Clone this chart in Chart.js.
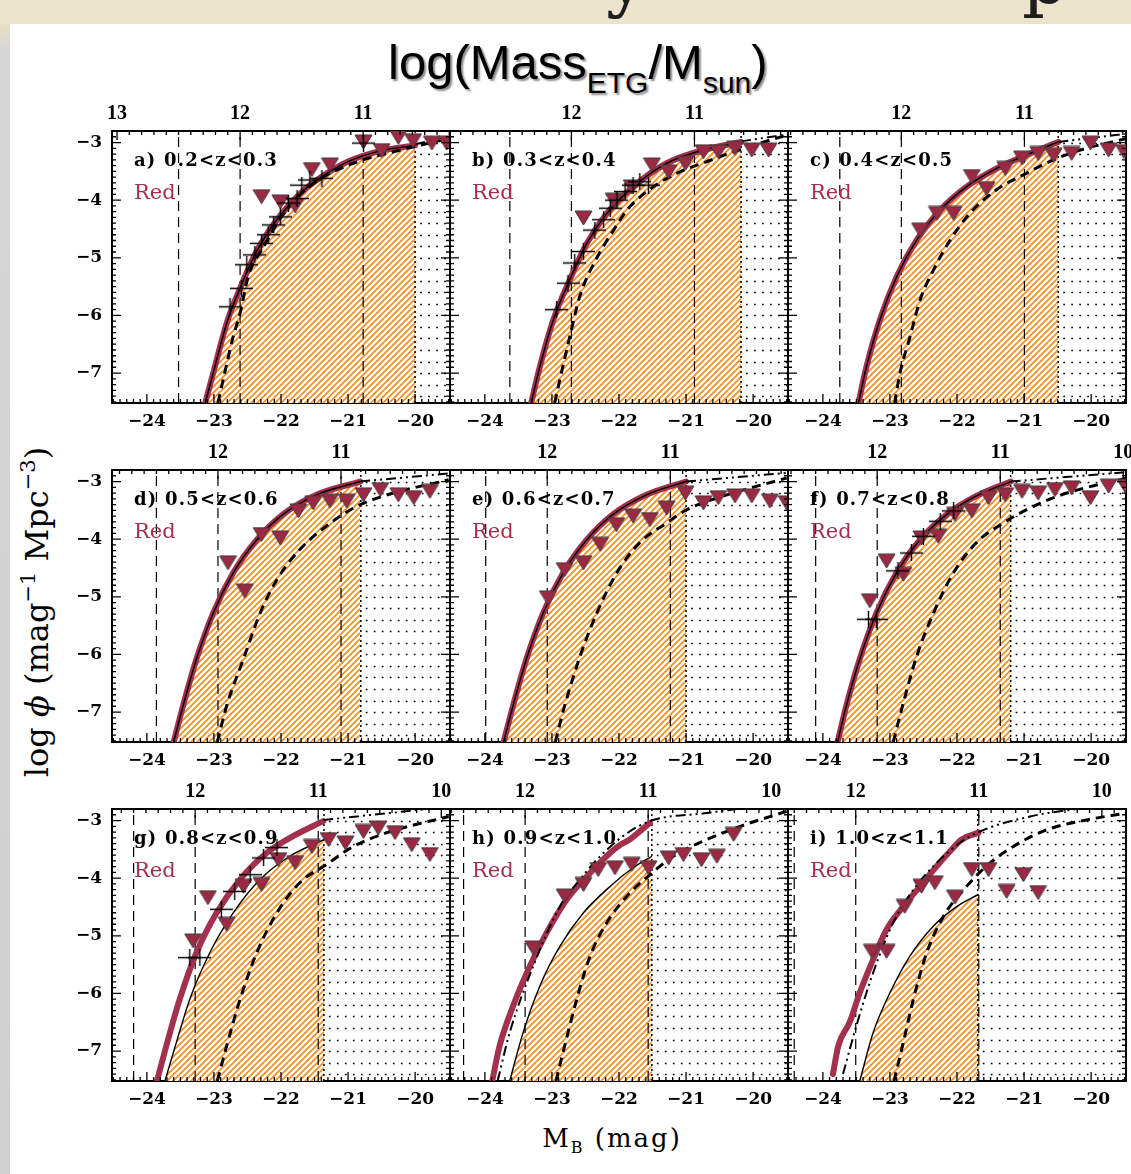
<!DOCTYPE html>
<html>
<head>
<meta charset="utf-8">
<script src="https://cdn.jsdelivr.net/npm/chart.js@4.4.1/dist/chart.umd.min.js"></script>
<style>
  body { margin: 0; width: 1131px; height: 1174px; overflow: hidden; background: #fff; position: relative; }
  canvas { position: absolute; }
  #band { position: absolute; left: 0; top: 0; width: 1131px; height: 24px; background: #ebe3cb; overflow: hidden; }
  #band span { position: absolute; top: -64px; font: 72px "DejaVu Serif"; color: #1d1d1d; }
  #edge { position: absolute; left: 0; top: 24px; width: 10px; height: 1150px;
          background: linear-gradient(to bottom, #e6dec6 0, #d6d6d6 26px, #d0d0d0 100%); }
  #title { position: absolute; left: 388px; top: 37px; font: 49px "Liberation Sans"; line-height: 50px;
           color: #000; white-space: nowrap; text-shadow: 2px 2px 2px #8a8a8a; }
  #title sub { font-size: 30px; vertical-align: -14px; line-height: 0; }
  #ytitle { position: absolute; left: 37px; top: 612px; transform: translate(-50%, -50%) rotate(-90deg);
            font: 32px "DejaVu Serif"; white-space: nowrap; color: #000; }
  #ytitle sup { font-size: 21px; vertical-align: 13px; line-height: 0; }
  #xtitle { position: absolute; left: 612px; top: 1138px; transform: translate(-50%, -50%);
            font: 26px "DejaVu Serif"; letter-spacing: 2px; white-space: nowrap; color: #000; }
  #xtitle sub { font-size: 16px; vertical-align: -6px; line-height: 0; }
</style>
</head>
<body>
<div id="band"><span style="left:606px">y</span><span style="left:1022px">p</span></div>
<div id="edge"></div>
<div id="title">log(Mass<sub>ETG</sub>/M<sub>sun</sub>)</div>
<div id="ytitle">log <i>ϕ</i> (mag<sup>−1</sup> Mpc<sup>−3</sup>)</div>
<div id="xtitle">M<sub>B</sub> (mag)</div>
<script>
// redshift bins, one panel each
const panelLabels = ['a) 0.2<z<0.3', 'b) 0.3<z<0.4', 'c) 0.4<z<0.5',
                     'd) 0.5<z<0.6', 'e) 0.6<z<0.7', 'f) 0.7<z<0.8',
                     'g) 0.8<z<0.9', 'h) 0.9<z<1.0', 'i) 1.0<z<1.1'];

// completeness limit (M_B) of each bin
const cutoffMag = [-20.0, -20.18, -20.49, -20.81, -21.0, -21.2, -21.36, -21.51, -21.69];

// M_B that corresponds to log M = 12 in each bin, and the slope of the conversion
const mass12Mag = [-22.61, -22.71, -22.83, -22.94, -23.07, -23.19, -23.28, -23.40, -23.51];
const magPerDex = 1.835;
const massTickLabels = [[13, 12, 11], [12, 11], [12, 11], [12, 11], [12, 11],
                        [12, 11, 10], [12, 11, 10], [12, 11, 10], [12, 11, 10]];
const massLines = [12.5, 12, 11];

const magTicks = [-24, -23, -22, -21, -20];
const phiTicks = [-7, -6, -5, -4, -3];
const dotRows = [-7.4, -7.2, -7.0, -6.8, -6.6, -6.4, -6.2, -6.0, -5.8, -5.6, -5.4, -5.2,
                 -5.0, -4.8, -4.6, -4.4, -4.2, -4.0, -3.8, -3.6, -3.4, -3.2, -3.0];

// red-sequence LF (thick red)
const redCurve = [
  [[-23.13, -7.52], [-23.0, -6.95], [-22.8, -6.1], [-22.6, -5.5], [-22.4, -4.97], [-22.2, -4.57], [-22.0, -4.25], [-21.7, -3.87], [-21.4, -3.6], [-21.0, -3.33], [-20.5, -3.14], [-20.0, -3.05]],
  [[-23.31, -7.52], [-23.18, -6.89], [-22.98, -6.08], [-22.73, -5.37], [-22.48, -4.75], [-22.18, -4.23], [-21.79, -3.77], [-21.29, -3.36], [-20.74, -3.13], [-20.18, -2.99]],
  [[-23.47, -7.52], [-23.35, -6.89], [-23.15, -6.08], [-22.9, -5.33], [-22.6, -4.69], [-22.25, -4.17], [-21.86, -3.77], [-21.36, -3.42], [-20.91, -3.19], [-20.49, -2.99]],
  [[-23.6, -7.52], [-23.46, -6.89], [-23.26, -6.08], [-23.01, -5.28], [-22.71, -4.58], [-22.36, -4.01], [-21.97, -3.57], [-21.47, -3.23], [-20.82, -3.0]],
  [[-23.72, -7.52], [-23.58, -6.89], [-23.38, -6.08], [-23.13, -5.28], [-22.83, -4.58], [-22.48, -4.01], [-22.09, -3.57], [-21.59, -3.23], [-21.0, -3.0]],
  [[-23.78, -7.52], [-23.65, -6.89], [-23.45, -6.08], [-23.2, -5.28], [-22.9, -4.58], [-22.55, -4.01], [-22.15, -3.57], [-21.71, -3.25], [-21.2, -3.0]],
  [[-23.85, -7.52], [-23.71, -6.91], [-23.51, -6.1], [-23.26, -5.29], [-22.96, -4.6], [-22.61, -4.02], [-22.21, -3.56], [-21.82, -3.27], [-21.37, -3.01]],
  [[-23.89, -7.52], [-23.78, -6.91], [-23.58, -6.22], [-23.33, -5.53], [-23.08, -4.95], [-22.78, -4.37], [-22.48, -3.97], [-22.13, -3.56], [-21.98, -3.42], [-21.84, -3.33], [-21.54, -3.04]],
  [[-23.85, -7.4], [-23.77, -6.91], [-23.6, -6.5], [-23.45, -5.99], [-23.25, -5.41], [-23.05, -4.89], [-22.8, -4.49], [-22.55, -4.14], [-22.3, -3.79], [-22.1, -3.53], [-21.93, -3.33], [-21.68, -3.21]]
];

// Schechter fit bounding the hatched area (same as the red curve up to f)
const fitCurve = [
  null, null, null, null, null, null,
  [[-23.73, -7.52], [-23.56, -6.85], [-23.36, -6.1], [-23.06, -5.29], [-22.71, -4.6], [-22.31, -4.02], [-21.87, -3.62], [-21.36, -3.33]],
  [[-23.63, -7.52], [-23.43, -6.68], [-23.18, -5.87], [-22.88, -5.18], [-22.53, -4.6], [-22.13, -4.14], [-21.79, -3.82], [-21.51, -3.62]],
  [[-23.45, -7.52], [-23.25, -6.68], [-23.0, -5.99], [-22.7, -5.35], [-22.35, -4.83], [-22.0, -4.49], [-21.68, -4.28]]
];

// thick dashed model LF
const dashCurve = [
  [[-22.94, -7.52], [-22.84, -7.0], [-22.72, -6.4], [-22.61, -5.96], [-22.49, -5.33], [-22.26, -4.81], [-21.92, -4.17], [-21.52, -3.71], [-20.92, -3.36], [-20.22, -3.13], [-19.5, -2.93]],
  [[-22.96, -7.52], [-22.83, -6.85], [-22.71, -6.25], [-22.58, -5.65], [-22.33, -5.0], [-22.08, -4.52], [-21.88, -4.17], [-21.49, -3.77], [-21.09, -3.51], [-20.69, -3.33], [-20.29, -3.16], [-19.5, -2.87]],
  [[-22.93, -7.52], [-22.85, -7.0], [-22.7, -6.37], [-22.55, -5.73], [-22.35, -5.21], [-22.1, -4.69], [-21.81, -4.23], [-21.41, -3.82], [-20.96, -3.53], [-20.56, -3.3], [-20.16, -3.13], [-19.47, -2.93]],
  [[-22.95, -7.52], [-22.81, -6.89], [-22.56, -6.08], [-22.31, -5.28], [-22.06, -4.7], [-21.72, -4.18], [-21.32, -3.77], [-20.92, -3.46], [-20.47, -3.25], [-19.5, -2.97]],
  [[-22.95, -7.52], [-22.81, -6.89], [-22.58, -6.03], [-22.33, -5.28], [-22.03, -4.58], [-21.69, -4.06], [-21.29, -3.72], [-20.99, -3.49], [-20.44, -3.25], [-19.5, -2.94]],
  [[-22.95, -7.52], [-22.8, -6.84], [-22.6, -6.03], [-22.35, -5.28], [-22.05, -4.58], [-21.71, -4.06], [-21.31, -3.72], [-20.86, -3.43], [-20.36, -3.2], [-19.47, -2.94]],
  [[-22.95, -7.52], [-22.81, -6.91], [-22.61, -6.1], [-22.36, -5.29], [-22.06, -4.6], [-21.72, -4.08], [-21.32, -3.76], [-20.92, -3.45], [-20.42, -3.21], [-19.5, -2.93]],
  [[-22.94, -7.52], [-22.81, -6.91], [-22.63, -6.1], [-22.43, -5.35], [-22.18, -4.77], [-21.88, -4.31], [-21.54, -3.94], [-21.19, -3.62], [-20.69, -3.33], [-20.19, -3.1], [-19.5, -2.84]],
  [[-22.94, -7.52], [-22.8, -6.85], [-22.65, -6.1], [-22.45, -5.29], [-22.2, -4.66], [-21.9, -4.2], [-21.56, -3.79], [-21.16, -3.45], [-20.66, -3.16], [-20.16, -3.01], [-19.47, -2.87]]
];

// dash-dot-dot model LF
const dashDotCurve = [
  [[-20.0, -3.03], [-19.5, -2.9]],
  [[-20.18, -2.98], [-19.5, -2.86]],
  [[-20.49, -2.99], [-19.5, -2.85]],
  [[-20.82, -3.0], [-19.5, -2.86]],
  [[-21.0, -3.0], [-19.5, -2.85]],
  [[-21.2, -3.0], [-19.5, -2.84]],
  [[-21.37, -2.99], [-19.5, -2.76]],
  [[-23.81, -7.52], [-23.63, -6.68], [-23.28, -5.53], [-22.88, -4.49], [-22.58, -4.02], [-22.33, -3.68], [-21.94, -3.27], [-21.54, -3.01], [-20.69, -2.87], [-19.7, -2.72]],
  [[-23.7, -7.4], [-23.5, -6.56], [-23.25, -5.64], [-22.95, -4.77], [-22.65, -4.2], [-22.3, -3.73], [-21.96, -3.39], [-21.66, -3.19], [-20.91, -2.93], [-19.91, -2.75]]
];

// red galaxies (triangles)
const triangles = [
  [[-22.29, -3.94], [-22.01, -4.03], [-21.79, -4.1], [-21.54, -3.47], [-21.27, -3.39], [-20.77, -2.99], [-20.5, -3.14], [-20.25, -2.91], [-20.03, -2.97], [-19.75, -3.01], [-19.53, -3.01]],
  [[-22.53, -4.31], [-22.08, -4.0], [-21.81, -3.77], [-21.51, -3.39], [-21.26, -3.51], [-21.01, -3.36], [-20.74, -3.16], [-20.52, -3.16], [-20.27, -3.1], [-20.02, -3.13], [-19.77, -3.13]],
  [[-22.55, -4.52], [-22.3, -4.23], [-22.05, -4.23], [-21.78, -3.59], [-21.56, -3.8], [-21.28, -3.45], [-21.03, -3.27], [-20.79, -3.19], [-20.56, -3.22], [-20.29, -3.19], [-20.01, -3.01], [-19.74, -3.13], [-19.51, -3.16]],
  [[-22.79, -4.41], [-22.54, -4.9], [-22.29, -3.92], [-22.01, -3.98], [-21.74, -3.51], [-21.52, -3.37], [-21.27, -3.34], [-21.02, -3.34], [-20.77, -3.23], [-20.52, -3.14], [-20.25, -3.23], [-20.02, -3.28], [-19.78, -3.17]],
  [[-23.06, -5.02], [-22.81, -4.53], [-22.53, -4.41], [-22.28, -4.09], [-22.04, -3.75], [-21.79, -3.6], [-21.54, -3.66], [-21.29, -3.46], [-21.01, -3.2], [-20.74, -3.37], [-20.52, -3.28], [-20.27, -3.25], [-20.02, -3.25], [-19.75, -3.34], [-19.5, -3.37]],
  [[-23.3, -5.07], [-23.05, -4.38], [-22.8, -4.61], [-22.53, -3.98], [-22.28, -3.95], [-22.03, -3.57], [-21.78, -3.51], [-21.53, -3.28], [-21.28, -3.23], [-21.03, -3.17], [-20.79, -3.2], [-20.54, -3.14], [-20.29, -3.11], [-20.01, -3.28], [-19.74, -3.08], [-19.49, -3.08]],
  [[-23.31, -5.09], [-23.09, -4.34], [-22.81, -4.8], [-22.56, -4.14], [-22.29, -4.11], [-22.04, -3.68], [-21.79, -3.73], [-21.54, -3.45], [-21.29, -3.33], [-21.04, -3.39], [-20.77, -3.19], [-20.55, -3.13], [-20.3, -3.21], [-20.05, -3.42], [-19.78, -3.59]],
  [[-23.28, -5.21], [-22.81, -4.31], [-22.53, -4.11], [-22.31, -3.85], [-22.06, -3.82], [-21.81, -3.76], [-21.56, -3.82], [-21.26, -3.65], [-21.04, -3.59], [-20.77, -3.68], [-20.54, -3.62], [-20.29, -3.24]],
  [[-23.27, -5.27], [-23.05, -5.27], [-22.78, -4.49], [-22.53, -4.14], [-22.33, -4.08], [-22.03, -4.33], [-21.78, -3.85], [-21.53, -3.85], [-21.26, -4.23], [-21.01, -3.94], [-20.79, -4.25]]
];

// comparison sample (crosses)
const crosses = [
  [[-22.76, -5.85], [-22.59, -5.53], [-22.51, -5.12], [-22.39, -4.95], [-22.29, -4.75], [-22.19, -4.6], [-22.11, -4.43], [-22.01, -4.29], [-21.89, -4.05], [-21.76, -3.97], [-21.69, -3.74], [-21.57, -3.65], [-21.39, -3.62], [-20.77, -3.01]],
  [[-22.93, -5.9], [-22.76, -5.44], [-22.66, -5.09], [-22.53, -4.89], [-22.36, -4.52], [-22.23, -4.34], [-22.13, -4.14], [-22.03, -4.0], [-21.91, -3.85], [-21.79, -3.74], [-21.69, -3.68], [-21.56, -3.74]],
  [], [], [],
  [[-23.32, -5.39], [-23.2, -5.39], [-22.88, -4.55], [-22.68, -4.24], [-22.5, -3.95], [-22.25, -3.69], [-22.05, -3.51]],
  [[-23.36, -5.38], [-23.21, -5.38], [-22.89, -4.54], [-22.69, -4.23], [-22.46, -3.94], [-22.26, -3.65], [-22.06, -3.47]],
  [], []
];

const X_MIN = -24.52, X_MAX = -19.48, Y_MIN = -7.52, Y_MAX = -2.8;
const RED = '#a3304c';
const FRAME_W = 338, FRAME_H = 272;
const PAD_L = 45, PAD_R = 24, PAD_T = 30, PAD_B = 34;
const colLeft = [112, 450, 788];
const rowTop = [131, 470, 809];
const TICK_FONT = {family: 'DejaVu Serif', size: 17, weight: 'bold'};

const pts = arr => arr.map(([x, y]) => ({x, y}));
const minus = v => (v < 0 ? '\u2212' : '') + Math.abs(v);

// orange diagonal hatching
function makeHatch() {
  const c = document.createElement('canvas');
  c.width = c.height = 6;
  const g = c.getContext('2d');
  g.fillStyle = '#fff';
  g.fillRect(0, 0, 6, 6);
  g.strokeStyle = '#f58d1f';
  g.lineWidth = 1.7;
  g.beginPath();
  g.moveTo(0, 6); g.lineTo(6, 0);
  g.moveTo(-1, 1); g.lineTo(1, -1);
  g.moveTo(5, 7); g.lineTo(7, 5);
  g.stroke();
  return g.createPattern(c, 'repeat');
}

function makeTriangle() {
  const c = document.createElement('canvas');
  c.width = 19; c.height = 16;
  const g = c.getContext('2d');
  g.beginPath();
  g.moveTo(1, 1); g.lineTo(18, 1); g.lineTo(9.5, 15); g.closePath();
  g.fillStyle = '#9c2944';
  g.fill();
  g.strokeStyle = '#3f3f3f';
  g.lineWidth = 1;
  g.stroke();
  return c;
}

function makeCross() {
  const c = document.createElement('canvas');
  c.width = 23; c.height = 17;
  const g = c.getContext('2d');
  g.strokeStyle = '#000';
  g.lineWidth = 1.4;
  g.beginPath();
  g.moveTo(0, 8.5); g.lineTo(23, 8.5);
  g.moveTo(11.5, 0); g.lineTo(11.5, 17);
  g.stroke();
  return c;
}

const hatch = makeHatch();
const triSprite = makeTriangle();
const crossSprite = makeCross();

// dotted rows beyond the limit, inward ticks and panel text
const panelDecor = {
  id: 'panelDecor',
  beforeDatasetsDraw(chart, args, opts) {
    const {ctx, chartArea: a, scales: {x, y}} = chart;
    const x0 = x.getPixelForValue(opts.cutoff);
    ctx.save();
    ctx.beginPath();
    ctx.rect(a.left, a.top, a.width, a.height);
    ctx.clip();
    ctx.strokeStyle = '#000';
    ctx.lineWidth = 1.7;
    ctx.setLineDash([1.7, 6.3]);
    dotRows.forEach(v => {
      const py = Math.round(y.getPixelForValue(v)) + 0.5;
      ctx.beginPath();
      ctx.moveTo(x0 + 5, py);
      ctx.lineTo(a.right, py);
      ctx.stroke();
    });
    ctx.restore();
  },
  afterDatasetsDraw(chart, args, opts) {
    const {ctx, chartArea: a, scales: {x, x2, y}} = chart;
    ctx.save();
    ctx.strokeStyle = '#000';
    ctx.lineWidth = 1.3;
    ctx.beginPath();
    for (let k = Math.ceil(x.min * 10); k <= Math.floor(x.max * 10); k++) {
      const px = x.getPixelForValue(k / 10), len = k % 10 === 0 ? 9 : 4;
      ctx.moveTo(px, a.bottom); ctx.lineTo(px, a.bottom - len);
    }
    for (let k = Math.ceil(x2.min * 10); k <= Math.floor(x2.max * 10); k++) {
      const px = x2.getPixelForValue(k / 10), len = k % 10 === 0 ? 9 : 4;
      ctx.moveTo(px, a.top); ctx.lineTo(px, a.top + len);
    }
    for (let k = Math.ceil(y.min * 10); k <= Math.floor(y.max * 10); k++) {
      const py = y.getPixelForValue(k / 10), len = k % 10 === 0 ? 9 : 4;
      ctx.moveTo(a.left, py); ctx.lineTo(a.left + len, py);
      ctx.moveTo(a.right, py); ctx.lineTo(a.right - len, py);
    }
    ctx.stroke();

    ctx.fillStyle = '#000';
    ctx.font = 'bold 18px "DejaVu Serif"';
    ctx.letterSpacing = '1.2px';
    ctx.fillText(opts.label, a.left + 22, a.top + 35);
    ctx.fillStyle = RED;
    ctx.font = '21px "DejaVu Serif"';
    ctx.letterSpacing = '0px';
    ctx.fillText('Red', a.left + 22, a.top + 68);
    ctx.restore();
  }
};

function line(data, extra) {
  return Object.assign({
    data: pts(data), showLine: true, pointRadius: 0, borderColor: '#000', borderWidth: 1.5,
    cubicInterpolationMode: 'monotone', fill: false, clip: 0
  }, extra);
}

panelLabels.forEach((label, i) => {
  const col = i % 3, row = Math.floor(i / 3);
  const cv = document.createElement('canvas');
  cv.width = PAD_L + FRAME_W + PAD_R;
  cv.height = PAD_T + FRAME_H + PAD_B;
  cv.style.left = (colLeft[col] - PAD_L) + 'px';
  cv.style.top = (rowTop[row] - PAD_T) + 'px';
  document.body.appendChild(cv);

  const massAt = m => 12 - (m - mass12Mag[i]) / magPerDex;
  const magAt = lm => mass12Mag[i] - (lm - 12) * magPerDex;
  const straight = {cubicInterpolationMode: 'default', tension: 0};

  new Chart(cv, {
    type: 'scatter',
    data: {
      datasets: [
        {data: pts(crosses[i]), pointStyle: crossSprite, pointRadius: 8, clip: 0},
        {data: pts(triangles[i]), pointStyle: triSprite, pointRadius: 8, clip: 0},
        line(fitCurve[i] || redCurve[i], {fill: 'start', backgroundColor: hatch, borderWidth: 1.4}),
        line(dashCurve[i], {borderWidth: 3, borderDash: [9, 6]}),
        line(dashDotCurve[i], {borderWidth: 2, borderDash: [10, 4, 2, 4, 2, 4]}),
        line(redCurve[i], {borderColor: RED, borderWidth: 6, borderCapStyle: 'round', borderJoinStyle: 'round'}),
        line([[cutoffMag[i], Y_MIN], [cutoffMag[i], Y_MAX]], Object.assign({borderWidth: 1.5, borderDash: [2, 3]}, straight)),
        ...massLines.map(m => line([[magAt(m), Y_MIN], [magAt(m), Y_MAX]],
          Object.assign({borderWidth: 1.2, borderDash: [10, 6]}, straight)))
      ]
    },
    options: {
      responsive: false,
      animation: false,
      devicePixelRatio: 1,
      events: [],
      layout: {padding: 0},
      plugins: {
        legend: {display: false},
        tooltip: {enabled: false},
        filler: {drawTime: 'beforeDatasetsDraw'},
        panelDecor: {cutoff: cutoffMag[i], label}
      },
      scales: {
        x: {
          type: 'linear', position: 'bottom', min: X_MIN, max: X_MAX,
          afterBuildTicks: s => { s.ticks = magTicks.map(v => ({value: v})); },
          afterFit: s => { s.height = PAD_B; },
          ticks: {font: TICK_FONT, color: '#000', padding: 8, maxRotation: 0, callback: minus},
          grid: {display: false, drawTicks: false},
          border: {display: true, width: 2, color: '#000'}
        },
        x2: {
          type: 'linear', position: 'top', min: massAt(X_MAX), max: massAt(X_MIN), reverse: true,
          afterBuildTicks: s => { s.ticks = massTickLabels[i].map(v => ({value: v})); },
          afterFit: s => { s.height = PAD_T; },
          ticks: {font: {family: 'Liberation Serif', size: 20, weight: 'bold'}, color: '#000', padding: 5, maxRotation: 0,
                  callback: v => String(v)},
          grid: {display: false, drawTicks: false},
          border: {display: true, width: 2, color: '#000'}
        },
        y: {
          type: 'linear', position: 'left', min: Y_MIN, max: Y_MAX,
          afterBuildTicks: s => { s.ticks = phiTicks.map(v => ({value: v})); },
          afterFit: s => { s.width = PAD_L; },
          ticks: {display: col === 0, font: TICK_FONT, color: '#000', padding: 10, callback: minus},
          grid: {display: false, drawTicks: false},
          border: {display: true, width: 2, color: '#000'}
        },
        y2: {
          type: 'linear', position: 'right', min: Y_MIN, max: Y_MAX,
          afterFit: s => { s.width = PAD_R; },
          ticks: {display: false},
          grid: {display: false, drawTicks: false},
          border: {display: true, width: 2, color: '#000'}
        }
      }
    },
    plugins: [panelDecor]
  });
});
</script>
</body>
</html>
